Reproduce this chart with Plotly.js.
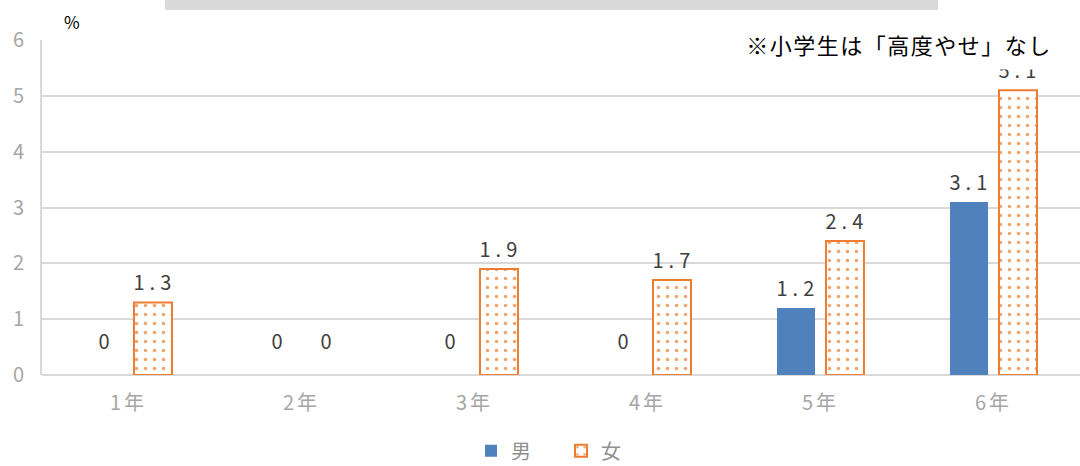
<!DOCTYPE html>
<html><head><meta charset="utf-8">
<script src="https://cdn.plot.ly/plotly-3.0.1.min.js"></script>
<style>
body{margin:0;padding:0;background:#fff;}
#chart{width:1080px;height:466px;}
</style>
</head><body>
<div id="chart"></div>
<script>
var categories = ["1年","2年","3年","4年","5年","6年"];
var male = [0, 0, 0, 0, 1.2, 3.1];
var female = [1.3, 0, 1.9, 1.7, 2.4, 5.1];
var seriesNames = ["男","女"];
var yTicks = [0,1,2,3,4,5,6];
var note = "※小学生は「高度やせ」なし";

var FONT = '"Noto Sans CJK JP", "Noto Sans", sans-serif';
var traces = [
  {type:'bar', name:seriesNames[0], x:categories, y:male,
   marker:{color:'#4f81bd', line:{width:0}}, hoverinfo:'none'},
  {type:'bar', name:seriesNames[1], x:categories, y:female,
   marker:{color:'#ffffff', line:{color:'#ed7d31', width:female.map(function(v){return v===0?0:2;})},
     pattern:{shape:'.', fgcolor:'#f4a36a', bgcolor:'#ffffff', size:9, solidity:0.12}},
   hoverinfo:'none'}
];

var annotations = [];
function addLabels(vals, shift){
  vals.forEach(function(v,i){
    annotations.push({x:categories[i], y:v, xref:'x', yref:'y',
      text:v.toFixed(v===0?0:1), showarrow:false, xshift:shift+2,
      yanchor:'bottom', yshift: v===0 ? 18 : 4,
      font:{family:FONT, size:20, color:'#404040'}});
  });
}
addLabels(male, -24.5);
addLabels(female, 24.5);
annotations.push({xref:'paper', yref:'paper', x:(1052-42)/1038, y:1.0, xanchor:'right', yanchor:'bottom',
  yshift:-30,
  text:note, showarrow:false, bgcolor:'#ffffff', borderpad:9,
  font:{family:FONT, size:22, color:'#000000'}});
annotations.push({xref:'paper', yref:'paper', x:0.0, y:1.0, xanchor:'left', yanchor:'bottom',
  xshift:20, yshift:4, text:'%', showarrow:false,
  font:{family:FONT, size:17, color:'#000000'}});

var layout = {
  width:1080, height:466,
  margin:{l:42, r:0, t:40, b:91, autoexpand:false},
  paper_bgcolor:'#ffffff', plot_bgcolor:'#ffffff',
  font:{family:FONT},
  barmode:'group', bargap:0.434, bargroupgap:0.224,
  xaxis:{type:'category', showgrid:false, zeroline:false, showline:false, automargin:false,
    ticks:'', ticklabelstandoff:14, tickfont:{family:FONT, size:20, color:'#a6a6a6'}, fixedrange:true},
  yaxis:{range:[0,6], tickvals:yTicks, showgrid:true, gridcolor:'#d9d9d9', gridwidth:2, automargin:false,
    zeroline:true, zerolinecolor:'#d9d9d9', zerolinewidth:2,
    showline:true, linecolor:'#d9d9d9', linewidth:2,
    ticks:'', ticklabelstandoff:12, tickfont:{family:FONT, size:20, color:'#a6a6a6'}},
  showlegend:true,
  legend:{orientation:'h', x:0.5, xanchor:'center', y:-0.226, yanchor:'middle',
    font:{family:FONT, size:20, color:'#909090'}, itemwidth:30, entrywidth:45, traceorder:'normal'},
  shapes:[{type:'rect', xref:'paper', yref:'paper', x0:(165-42)/1038, x1:(938-42)/1038,
    y0:1+30/335, y1:1+45/335, fillcolor:'#d9d9d9', line:{width:0}}],
  annotations:annotations
};
Plotly.newPlot('chart', traces, layout, {staticPlot:true, displayModeBar:false}).then(function(){
  document.querySelectorAll('.annotation-text').forEach(function(t){
    if(/^[0-9.]+$/.test(t.textContent)) t.style.letterSpacing='5px';
    if(t.textContent.indexOf('※')===0) t.style.letterSpacing='1.5px';
  });
  document.querySelectorAll('.xtick text').forEach(function(t){ t.style.letterSpacing='3px'; });
});
</script>
</body></html>
